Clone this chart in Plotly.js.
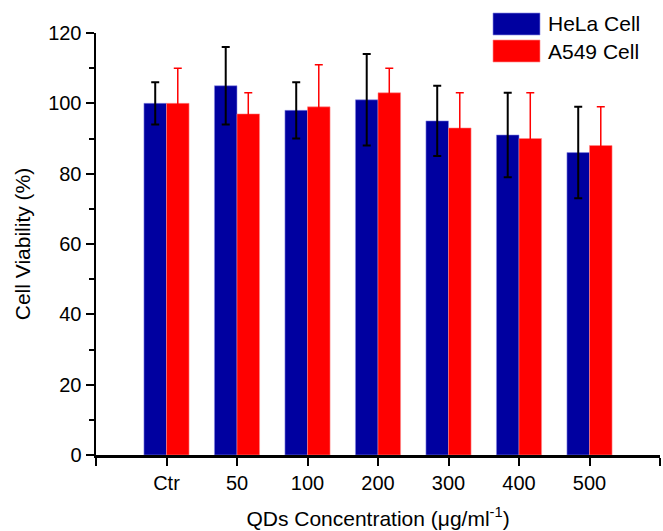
<!DOCTYPE html>
<html>
<head>
<meta charset="utf-8">
<script src="https://cdn.plot.ly/plotly-3.0.1.min.js"></script>
<style>html,body{margin:0;padding:0;background:#fff;}#chart{width:663px;height:531px;}</style>
</head>
<body>
<div id="chart"></div>
<script>
const categories = ['Ctr', '50', '100', '200', '300', '400', '500'];
const helaValues = [100, 105, 98, 101, 95, 91, 86];
const helaErrors = [6, 11, 8, 13, 10, 12, 13];
const a549Values = [100, 97, 99, 103, 93, 90, 88];
const a549Errors = [10, 6, 12, 7, 10, 13, 11];
const seriesNames = ['HeLa Cell', 'A549 Cell'];
const seriesColors = ['#0000A0', '#FF0000'];
const yTickValues = [0, 20, 40, 60, 80, 100, 120];

const W = 663, H = 531;
const M = {l: 96, r: 3, t: 33, b: 76};
const plotW = W - M.l - M.r, plotH = H - M.t - M.b;
const FONT = 'Liberation Sans, Arial, Helvetica, sans-serif';

const xPos = categories.map((_, i) => i + 1);

const traces = [
  {
    type: 'bar', name: seriesNames[0], x: xPos, y: helaValues,
    marker: {color: seriesColors[0], line: {color: 'rgba(140,140,230,0.7)', width: 0.8}},
    error_y: {type: 'data', array: helaErrors, visible: true, color: '#000000', thickness: 2, width: 4},
    showlegend: false
  },
  {
    type: 'bar', name: seriesNames[1], x: xPos, y: a549Values,
    marker: {color: seriesColors[1], line: {color: 'rgba(255,140,140,0.7)', width: 0.8}},
    error_y: {type: 'data', array: a549Errors, visible: true, color: '#FF0000', thickness: 1.5, width: 4},
    showlegend: false
  }
];

// manual legend (pixel -> paper helpers)
const px2x = px => (px - M.l) / plotW;
const py2y = py => (H - M.b - py) / plotH;
const legendShapes = [], legendAnnots = [];
const legTop = [13, 40];
seriesNames.forEach((name, i) => {
  legendShapes.push({
    type: 'rect', xref: 'paper', yref: 'paper',
    x0: px2x(493), x1: px2x(540), y0: py2y(legTop[i]), y1: py2y(legTop[i] + 22),
    fillcolor: seriesColors[i], line: {color: i === 0 ? 'rgba(140,140,230,0.8)' : 'rgba(255,140,140,0.8)', width: 0.8}
  });
  legendAnnots.push({
    xref: 'paper', yref: 'paper', x: px2x(546), y: py2y(legTop[i] + 11),
    xanchor: 'left', yanchor: 'middle', showarrow: false,
    text: name, font: {family: FONT, size: 21, color: '#000'}
  });
});

const layout = {
  width: W, height: H,
  margin: M,
  paper_bgcolor: '#fff', plot_bgcolor: '#fff',
  barmode: 'group', bargap: 0.36, bargroupgap: 0,
  showlegend: false,
  font: {family: FONT, color: '#000'},
  xaxis: {
    range: [0, categories.length + 1],
    tickmode: 'array', tickvals: xPos, ticktext: categories,
    ticks: 'outside', ticklen: 8, tickwidth: 2, tickcolor: '#000',
    minor: {tick0: 0, dtick: 1, ticks: 'outside', ticklen: 8, tickwidth: 2, tickcolor: '#000', showgrid: false},
    showline: true, linewidth: 2.5, linecolor: '#000',
    showgrid: false, zeroline: false,
    tickfont: {family: FONT, size: 20, color: '#000'},
    title: {text: 'QDs Concentration (\u03BCg/ml<sup>-1</sup>)', font: {family: FONT, size: 21, color: '#000'}, standoff: 19},
    automargin: false
  },
  yaxis: {
    range: [0, 120],
    tickmode: 'array', tickvals: yTickValues,
    ticks: 'outside', ticklen: 8, tickwidth: 2, tickcolor: '#000',
    minor: {dtick: 10, ticks: 'outside', ticklen: 5, tickwidth: 2, tickcolor: '#000', showgrid: false},
    showline: true, linewidth: 2.5, linecolor: '#000',
    showgrid: false, zeroline: false,
    tickfont: {family: FONT, size: 20, color: '#000'},
    title: {text: 'Cell Viability (%)', font: {family: FONT, size: 21, color: '#000'}, standoff: 12},
    automargin: false
  },
  shapes: legendShapes,
  annotations: legendAnnots
};

Plotly.newPlot('chart', traces, layout, {displayModeBar: false, staticPlot: true});
</script>
</body>
</html>
